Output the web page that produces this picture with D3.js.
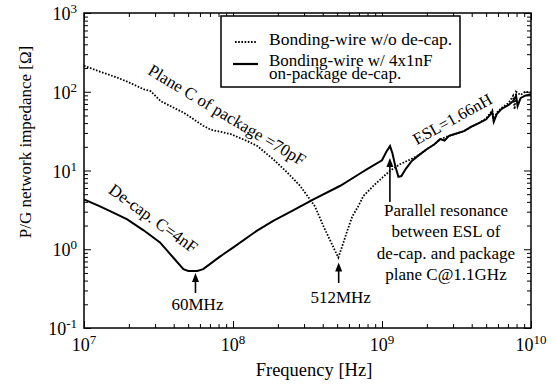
<!DOCTYPE html>
<html><head><meta charset="utf-8">
<script src="https://d3js.org/d3.v7.min.js"></script>
<style>body{margin:0;background:#fff}svg{display:block}</style>
</head><body><svg id="c" width="552" height="392"></svg>
<script>
// Data (log10 of frequency in Hz, impedance in ohms)
const solidLogF = [7.00,7.10,7.20,7.29,7.40,7.51,7.60,7.667,7.70,7.76,7.80,7.91,7.935,8.00,8.159,8.27,8.40,8.54,8.72,8.85,8.90,9.00,9.03,9.054,9.07,9.09,9.11,9.13,9.16,9.20,9.25,9.30,9.35,9.39,9.42,9.45,9.50,9.55,9.60,9.65,9.70,9.74,9.75,9.77,9.80,9.85,9.88,9.90,9.91,9.93,9.96,10.0];
const solidZ = [4.3,3.55,2.9,2.4,1.74,1.22,0.78,0.557,0.53,0.53,0.56,0.8,0.865,1.05,1.71,2.29,3.1,4.3,6.4,9.1,10.4,13.5,17.4,20.4,16.6,11.2,8.3,8.5,10.5,13.2,15.8,18.6,21.4,25,24,27.5,29.5,31.6,36,40,44.7,55,41.7,52,60,68,76,89,66,83,89,93];
const dotLogF = [7.00,7.10,7.224,7.30,7.403,7.447,7.515,7.60,7.671,7.80,7.85,7.985,8.10,8.163,8.27,8.36,8.45,8.55,8.606,8.65,8.68,8.707,8.74,8.763,8.80,8.84,8.875,8.95,9.05,9.12,9.19,9.25,9.30,9.35,9.39,9.45,9.50,9.55,9.60,9.65,9.70,9.74,9.75,9.77,9.80,9.85,9.88,9.89,9.90,9.93,9.96,10.0];
const dotZ = [214,182,151,132,107,102,76,63,54,37,33,29,23.4,20.5,13.9,9.6,6.4,3.5,1.98,1.32,1.0,0.785,1.2,1.63,2.6,3.5,4.75,6.6,9.8,12,13.8,15.8,18.6,21.4,25,27.5,29.5,31.6,36,40,46,58,43,54,62,72,89,60,100,91,100,98];
const xTickExp = [7,8,9,10];
const yTickExp = [-1,0,1,2,3];
const legendLabels = [["Bonding-wire w/o de-cap."],["Bonding-wire w/ 4x1nF","on-package de-cap."]];

const W=552,H=392,m={l:84,r:21,t:13,b:64};
const svg=d3.select("#c");
const FF="Liberation Serif";
const x=d3.scaleLog().domain([1e7,1e10]).range([m.l,W-m.r]);
const y=d3.scaleLog().domain([0.1,1000]).range([H-m.b,m.t]);

function minors(lo,hi){const a=[];for(let e=lo;e<hi;e++)for(let k=2;k<=9;k++)a.push(k*Math.pow(10,e));return a;}
const xMaj=xTickExp.map(e=>Math.pow(10,e)), yMaj=yTickExp.map(e=>Math.pow(10,e));
const xMin=minors(7,10), yMin=minors(-1,3);

function ax(gen,scale,vals,size,tr){
  const g=svg.append("g").attr("transform",tr).call(gen(scale).tickValues(vals).tickSize(size).tickFormat(""));
  g.select(".domain").remove();
  g.selectAll("line").attr("stroke","#000").attr("stroke-width",1);
  return g;
}
const bY=H-m.b, rX=W-m.r;
ax(d3.axisBottom,x,xMaj,-7,`translate(0,${bY})`);ax(d3.axisBottom,x,xMin,-4,`translate(0,${bY})`);
ax(d3.axisTop,x,xMaj,-7,`translate(0,${m.t})`);ax(d3.axisTop,x,xMin,-4,`translate(0,${m.t})`);
ax(d3.axisLeft,y,yMaj,-7,`translate(${m.l},0)`);ax(d3.axisLeft,y,yMin,-4,`translate(${m.l},0)`);
ax(d3.axisRight,y,yMaj,-7,`translate(${rX},0)`);ax(d3.axisRight,y,yMin,-4,`translate(${rX},0)`);
svg.append("rect").attr("x",m.l).attr("y",m.t).attr("width",rX-m.l).attr("height",bY-m.t)
  .attr("fill","none").attr("stroke","#000").attr("stroke-width",1.5);

function T(){return svg.append("text").attr("font-family",FF).attr("fill","#000");}
// tick labels
xTickExp.forEach(e=>{
  const t=T().attr("x",x(Math.pow(10,e))).attr("y",351).attr("text-anchor","middle").attr("font-size",18);
  t.append("tspan").text("10");
  t.append("tspan").attr("dy",-7).attr("font-size",13).text(e);
});
yTickExp.forEach(e=>{
  const t=T().attr("x",77).attr("y",y(Math.pow(10,e))+7).attr("text-anchor","end").attr("font-size",18);
  t.append("tspan").text("10");
  t.append("tspan").attr("dy",-7).attr("font-size",13).text(e);
});
T().attr("x",314).attr("y",376).attr("text-anchor","middle").attr("font-size",18.5).text("Frequency [Hz]");
T().attr("transform",`translate(31,142) rotate(-90)`).attr("text-anchor","middle").attr("font-size",17).text("P/G network impedance [Ω]");

// lines
svg.append("clipPath").attr("id","cp").append("rect").attr("x",m.l).attr("y",m.t).attr("width",rX-m.l).attr("height",bY-m.t);
const line=d3.line().x(d=>x(Math.pow(10,d[0]))).y(d=>y(d[1]));
svg.append("path").datum(dotLogF.map((f,i)=>[f,dotZ[i]])).attr("d",line).attr("clip-path","url(#cp)")
  .attr("fill","none").attr("stroke","#000").attr("stroke-width",1.8).attr("stroke-dasharray","1.6,1.6");
svg.append("path").datum(solidLogF.map((f,i)=>[f,solidZ[i]])).attr("d",line).attr("clip-path","url(#cp)")
  .attr("fill","none").attr("stroke","#000").attr("stroke-width",2);

// legend
const lg=svg.append("g");
lg.append("rect").attr("x",221).attr("y",16).attr("width",239).attr("height",71).attr("fill","#fff").attr("stroke","#000").attr("stroke-width",1.5);
lg.append("line").attr("x1",235).attr("x2",257).attr("y1",42).attr("y2",42).attr("stroke","#000").attr("stroke-width",1.8).attr("stroke-dasharray","1.6,1.6");
lg.append("line").attr("x1",233).attr("x2",258).attr("y1",64).attr("y2",64).attr("stroke","#000").attr("stroke-width",2.2);
T().attr("x",269).attr("y",45).attr("font-size",17.5).text(legendLabels[0][0]);
T().attr("x",269).attr("y",66).attr("font-size",17).text(legendLabels[1][0]);
T().attr("x",269).attr("y",79).attr("font-size",17).text(legendLabels[1][1]);

// rotated annotations
function rot(txt,cx,cy,ang,fs){T().attr("transform",`translate(${cx},${cy}) rotate(${ang})`).attr("text-anchor","middle").attr("font-size",fs).text(txt);}
rot("Plane C of package =70pF",224,120,31,17);
rot("De-cap. C=4nF",150,223,36,17);
rot("ESL=1.66nH",455,124,-29,16.5);

// arrows
function arrow(f,tipY,baseY){
  const ax_=x(f);
  svg.append("line").attr("x1",ax_).attr("x2",ax_).attr("y1",tipY+5).attr("y2",baseY).attr("stroke","#000").attr("stroke-width",1.6);
  svg.append("path").attr("d",`M${ax_},${tipY} L${ax_-3.5},${tipY+9} L${ax_+3.5},${tipY+9} Z`).attr("fill","#000");
}
arrow(56e6,y(0.5),293);
arrow(512e6,y(0.68),283);
arrow(1.13e9,158,202);
T().attr("x",x(56e6)+2).attr("y",310).attr("text-anchor","middle").attr("font-size",17).text("60MHz");
T().attr("x",x(512e6)+2).attr("y",303).attr("text-anchor","middle").attr("font-size",17).text("512MHz");
["Parallel resonance","between ESL of","de-cap. and package","plane C@1.1GHz"].forEach((s,i)=>{
  T().attr("x",446).attr("y",216+i*21.3).attr("text-anchor","middle").attr("font-size",17).text(s);
});
</script></body></html>
